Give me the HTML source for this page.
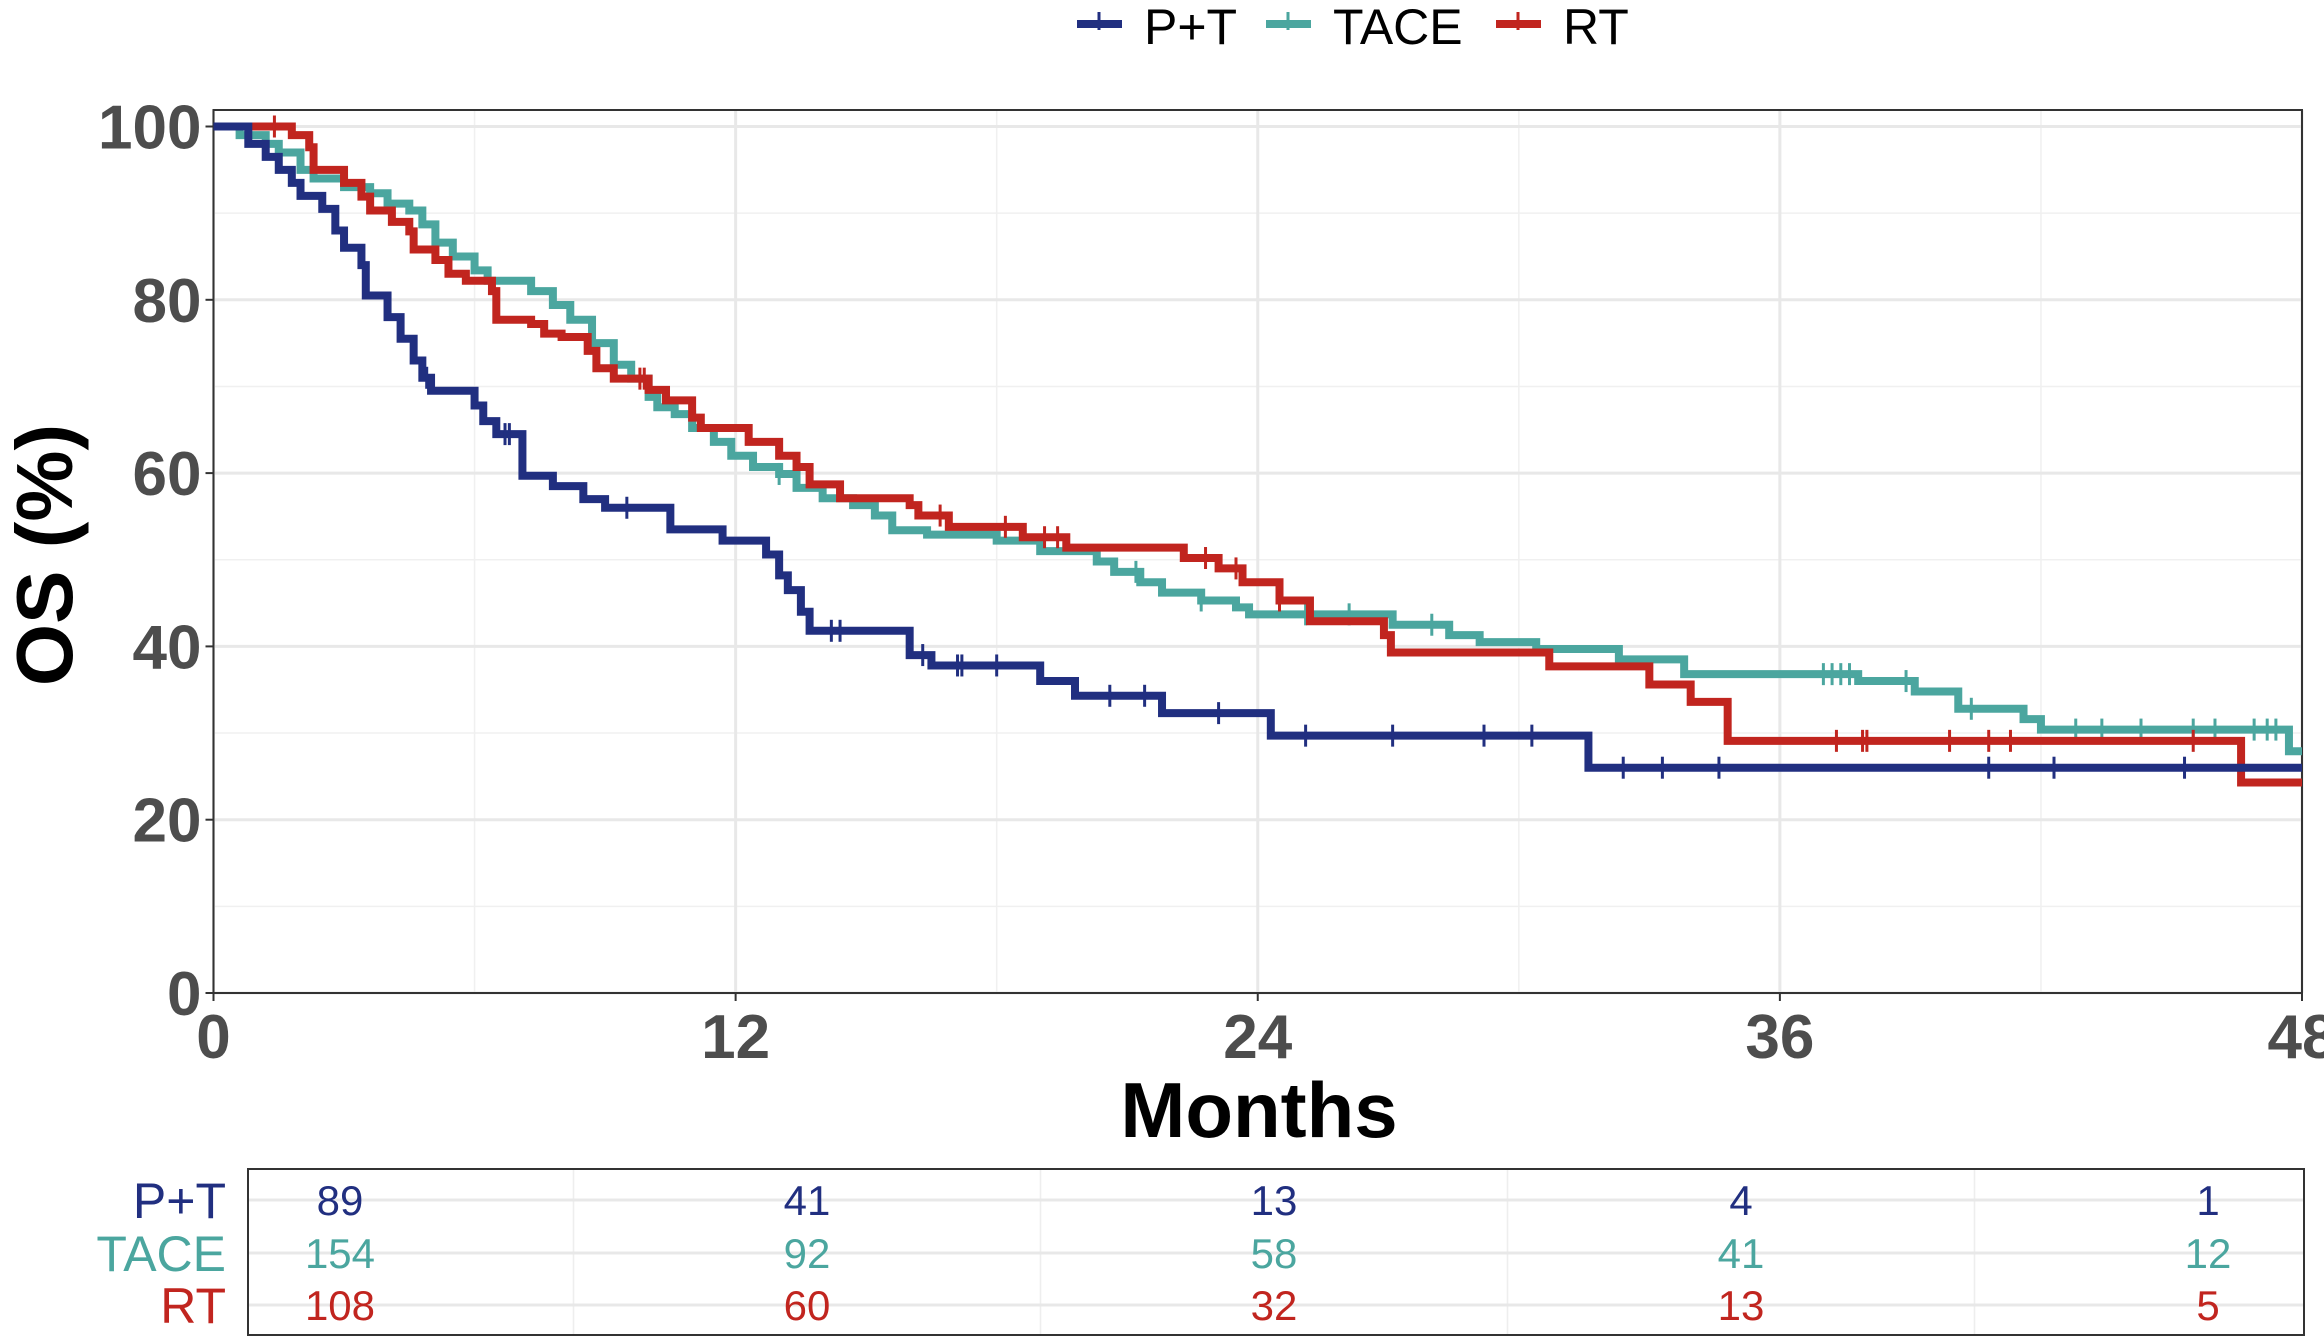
<!DOCTYPE html>
<html><head><meta charset="utf-8"><style>
html,body{margin:0;padding:0;background:#fff;}
svg{display:block;font-family:"Liberation Sans",Arial,sans-serif;}
</style></head><body>
<svg id="chart" width="2324" height="1342" viewBox="0 0 2324 1342"></svg>
<script>
// ---- data ----
const groupNames = ["P+T","TACE","RT"];
const ptTimes = [0,0.8,1.2,1.5,1.8,2.0,2.5,2.8,3.0,3.4,3.5,4.0,4.3,4.6,4.8,5.0,6.0,6.2,6.5,7.1,7.8,8.5,9.0,10.5,11.7,12.7,13.0,13.2,13.5,13.7,16.0,16.5,19.0,19.8,21.8,24.3,31.6];
const ptSurv  = [100,98,96.5,95,93.5,92,90.5,88,86,84,80.5,78,75.5,73,71,69.5,67.8,66,64.5,59.7,58.5,57,56,53.5,52.2,50.6,48.2,46.5,44,41.8,39,37.8,36,34.3,32.3,29.7,26];
const ptCensor = [4.9,6.7,6.8,9.5,14.2,14.4,16.3,17.1,17.2,18.0,20.6,21.4,23.1,25.1,27.1,29.2,30.3,32.4,33.3,34.6,40.8,42.3,45.3];
const taceTimes = [0,0.6,1.2,1.5,2.0,2.3,3.0,3.6,4.0,4.5,4.8,5.1,5.5,6.0,6.3,7.3,7.8,8.2,8.7,9.2,9.6,10.0,10.2,10.6,11.0,11.5,11.9,12.4,13.0,13.4,14.0,14.7,15.2,15.6,16.4,18.0,19.0,20.3,20.7,21.3,21.8,22.7,23.5,23.8,27.1,28.4,29.1,30.4,32.3,33.8,37.8,39.1,40.1,41.6,42.0,47.7];
const taceSurv  = [100,99,98,97,95,94,93,92.3,91.1,90.3,88.7,86.6,85,83.4,82.2,81,79.4,77.7,75,72.5,70.9,68.8,67.6,66.8,65.2,63.6,62,60.7,59.9,58.3,57.1,56.3,55.1,53.4,52.9,52.2,51,49.8,48.6,47.4,46.2,45.3,44.5,43.7,42.5,41.3,40.5,39.7,38.5,36.8,36,34.8,32.8,31.6,30.4,27.9];
const taceCensor = [13.0,21.2,22.7,25.1,26.1,28.0,37.0,37.2,37.4,37.6,38.9,40.4,42.8,43.4,44.3,45.5,46.0,46.9,47.2,47.4];
const rtTimes = [0,1.8,2.2,2.3,3.0,3.4,3.6,4.1,4.5,4.6,5.1,5.4,5.8,6.4,6.5,7.3,7.6,8.0,8.6,8.8,9.2,10.0,10.4,11.0,11.2,12.3,13.0,13.4,13.7,14.4,16.0,16.2,16.9,18.6,19.6,22.3,23.1,23.65,24.5,25.2,26.9,27.06,30.7,33.0,33.95,34.8,46.6];
const rtSurv  = [100,99,97.6,95,93.5,91.9,90.3,89,87.9,85.8,84.6,83,82.2,81,77.7,77.2,76.1,75.7,74.1,72.1,70.9,69.6,68.4,66.4,65.2,63.6,62,60.7,58.7,57.1,56.3,55.1,53.8,52.6,51.4,50.2,49,47.4,45.3,42.9,41.3,39.3,37.7,35.6,33.6,29.1,24.3];
const rtCensor = [1.4,9.8,9.9,16.7,18.2,19.1,19.4,22.8,23.5,24.5,37.3,37.9,38.0,39.9,40.8,41.3,45.5];
const xTicks = [0,12,24,36,48];
const yTicks = [0,20,40,60,80,100];
const riskTimes = [0,12,24,36,48];
const riskPT = [89,41,13,4,1];
const riskTACE = [154,92,58,41,12];
const riskRT = [108,60,32,13,5];

// ---- layout ----
const NS="http://www.w3.org/2000/svg";
const svg=document.getElementById('chart');
const X0=213.5, X1=2302, Y0=993, Y1=126.5, PTOP=110;
const xs=t=>X0+(X1-X0)*t/48;
const ys=v=>Y0-(Y0-Y1)*v/100;
const colors=["#212f80","#4ba69f","#c1251f"];
function mk(tag,attrs,parent){const e=document.createElementNS(NS,tag);for(const k in attrs)e.setAttribute(k,attrs[k]);(parent||svg).appendChild(e);return e;}

// panel grid
const grid=mk('g',{});


for(let v=10;v<100;v+=20){mk('line',{x1:X0,x2:X1,y1:ys(v),y2:ys(v),stroke:'#f0f0f0','stroke-width':1.5},grid);}
for(let t=6;t<48;t+=12){mk('line',{x1:xs(t),x2:xs(t),y1:PTOP,y2:Y0,stroke:'#f0f0f0','stroke-width':1.5},grid);}
yTicks.forEach(v=>mk('line',{x1:X0,x2:X1,y1:ys(v),y2:ys(v),stroke:'#e8e8e8','stroke-width':3},grid));
xTicks.forEach(t=>mk('line',{x1:xs(t),x2:xs(t),y1:PTOP,y2:Y0,stroke:'#e8e8e8','stroke-width':3},grid));
const border=mk('rect',{x:X0,y:PTOP,width:X1-X0,height:Y0-PTOP,fill:'none',stroke:'#333','stroke-width':2});



// axes ticks + labels
yTicks.forEach(v=>{
  mk('line',{x1:X0-8,x2:X0,y1:ys(v),y2:ys(v),stroke:'#333','stroke-width':2});
  const t=mk('text',{x:X0-12,y:ys(v)+22,'text-anchor':'end','font-size':62,'font-weight':'bold',fill:'#4d4d4d'});
  t.textContent=v;
  
  
});
xTicks.forEach(v=>{
  mk('line',{x1:xs(v),x2:xs(v),y1:Y0,y2:Y0+8,stroke:'#333','stroke-width':2});
  const t=mk('text',{x:xs(v),y:Y0+65,'text-anchor':'middle','font-size':62,'font-weight':'bold',fill:'#4d4d4d'});
  t.textContent=v;
  
  
});
const xt=mk('text',{x:1259,y:1137,'text-anchor':'middle','font-size':78,'font-weight':'bold',fill:'#000'});
xt.textContent='Months';


const yt=mk('text',{x:0,y:0,transform:'translate(72,555) rotate(-90)','text-anchor':'middle','font-size':80,'font-weight':'bold',fill:'#000'});
yt.textContent='OS (%)';



// curves
function drawCurve(times,surv,cens,color,name){
  const g=mk('g',{});
  
  
  let d='M'+xs(times[0])+','+ys(surv[0]);
  for(let i=1;i<times.length;i++){d+=' H'+xs(times[i])+' V'+ys(surv[i]);}
  d+=' H'+xs(48);
  mk('path',{d:d,fill:'none',stroke:color,'stroke-width':8,'stroke-linejoin':'miter'},g);
  cens.forEach(c=>{
    let s=surv[0];for(let i=0;i<times.length;i++){if(times[i]<=c)s=surv[i];}
    const m=mk('line',{x1:xs(c),x2:xs(c),y1:ys(s)-11,y2:ys(s)+11,stroke:color,'stroke-width':3},g);
    
    
  });
}
drawCurve(taceTimes,taceSurv,taceCensor,colors[1],'tace');
drawCurve(rtTimes,rtSurv,rtCensor,colors[2],'rt');
drawCurve(ptTimes,ptSurv,ptCensor,colors[0],'pt');

// legend
const legKeys=[1077,1266,1496];
const leg=mk('g',{});


groupNames.forEach((n,i)=>{
  const e=mk('g',{},leg);
  
  
  mk('line',{x1:legKeys[i],x2:legKeys[i]+45,y1:24,y2:24,stroke:colors[i],'stroke-width':8},e);
  mk('line',{x1:legKeys[i]+22,x2:legKeys[i]+22,y1:12,y2:30,stroke:colors[i],'stroke-width':3},e);
  const t=mk('text',{x:legKeys[i]+67,y:44,'font-size':50,fill:'#000'},e);
  t.textContent=n;
});

// risk table
const TX0=340, TX1=2208;
const txs=t=>TX0+(TX1-TX0)*t/48;
const tbl=mk('g',{});


const rowY=[1200,1253,1305];
for(let t=6;t<48;t+=12){mk('line',{x1:txs(t),x2:txs(t),y1:1169,y2:1335,stroke:'#eeeeee','stroke-width':1.5},tbl);}
rowY.forEach(y=>mk('line',{x1:248,x2:2304,y1:y,y2:y,stroke:'#e8e8e8','stroke-width':3},tbl));
mk('rect',{x:248,y:1169,width:2056,height:166,fill:'none',stroke:'#333','stroke-width':2},tbl);
const riskRows=[riskPT,riskTACE,riskRT];
riskRows.forEach((row,r)=>{
  const lab=mk('text',{x:226,y:rowY[r]+18,'text-anchor':'end','font-size':50,fill:colors[r]},tbl);
  lab.textContent=groupNames[r];
  
  
  row.forEach((v,j)=>{
    const t=mk('text',{x:txs(riskTimes[j]),y:rowY[r]+15,'text-anchor':'middle','font-size':42,fill:colors[r]},tbl);
    t.textContent=v;
    
    
  });
});
</script>
</body></html>
